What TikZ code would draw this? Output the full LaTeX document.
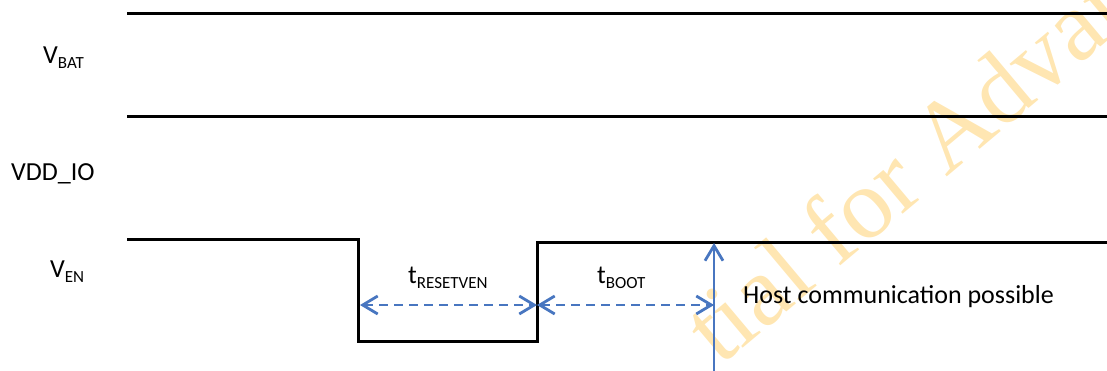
\documentclass[tikz,border=0pt]{standalone}
\usepackage{fontspec}
\setmainfont{Carlito}
\newfontfamily\wmfont{Liberation Serif}
\usetikzlibrary{arrows.meta}
\definecolor{sigblue}{RGB}{72,118,192}
\definecolor{wmcol}{RGB}{255,230,178}
\newcommand{\signame}[2]{#1\raisebox{-5pt}{\fontsize{17}{17}\selectfont #2}}
\tikzset{
  lbl/.style={inner sep=0pt, anchor=base west, font=\fontsize{26}{30}\selectfont},
  wave/.style={line width=3pt, black, line cap=butt, line join=miter},
  barb/.tip={Straight Barb[length=15pt,width=18pt,line width=2.8pt]},
  dim/.style={line width=2.8pt, sigblue, dash pattern=on 9pt off 6pt, barb-barb},
  vline/.style={line width=2.8pt, sigblue, -barb},
  wm/.style={inner sep=0pt, text=wmcol, font=\wmfont\fontsize{100}{100}\selectfont}
}
\begin{document}
\begin{tikzpicture}[x=1pt,y=-1pt]
\useasboundingbox (0,0) rectangle (1107,370);
\begin{scope}
\clip (0,0) rectangle (1107,370);
\node[wm, rotate=40] (wm) at (913,160) {tial for Advan};
\end{scope}
% signals
\coordinate (b0) at (127,13);
\coordinate (b1) at (1107,13);
\draw[wave] (b0) -- (b1);
\coordinate (d0) at (127,116);
\coordinate (d1) at (1107,116);
\draw[wave] (d0) -- (d1);
\coordinate (e0) at (127,239);
\coordinate (e1) at (358,239);
\coordinate (e2) at (358,341);
\coordinate (e3) at (537,341);
\coordinate (e4) at (537,242);
\coordinate (e5) at (1107,242);
\draw[wave] (e0) -- (e1) -- (e2) -- (e3) -- (e4) -- (e5);
% labels
\node[lbl] (vbat) at (43,63) {\signame{V}{BAT}};
\node[lbl] (vdd) at (11,180) {VDD\_IO};
\node[lbl] (ven) at (50,277) {\signame{V}{EN}};
\node[lbl] (treset) at (408,283) {\signame{t}{RESETVEN}};
\node[lbl] (tboot) at (597,283) {\signame{t}{BOOT}};
\node[lbl] (host) at (743,303) {Host communication possible};
% timing arrows
\coordinate (fa) at (360,305);
\coordinate (ra) at (537,305);
\coordinate (ha) at (714,305);
\draw[dim] (fa) -- (ra);
\draw[dim] (ra) -- (ha);
\coordinate (hb) at (714,372);
\coordinate (ht) at (714,243);
\draw[vline] (hb) -- (ht);
\end{tikzpicture}
\end{document}
